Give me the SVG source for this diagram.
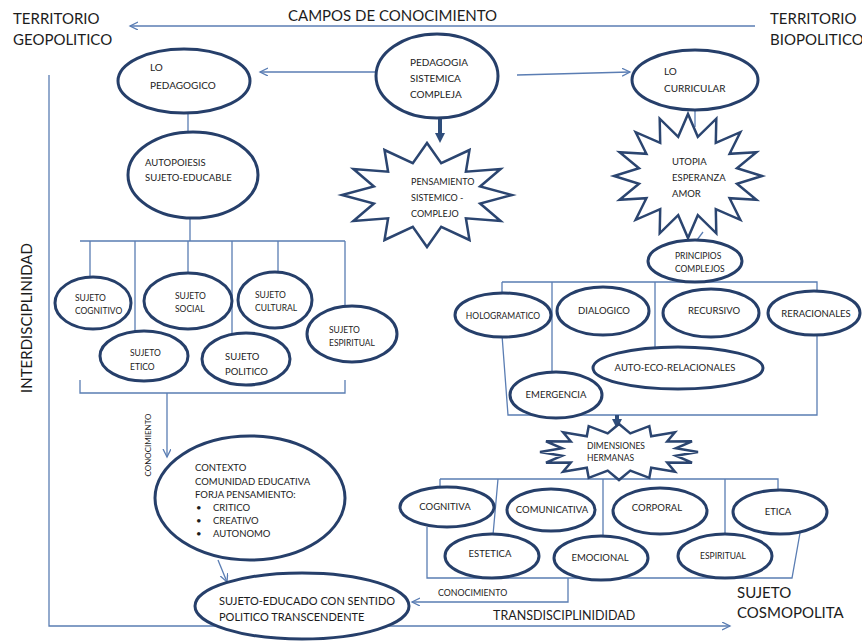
<svg xmlns="http://www.w3.org/2000/svg" width="862" height="641" viewBox="0 0 862 641">
<defs>
<marker id="open" markerWidth="10" markerHeight="10" refX="8" refY="4" orient="auto" markerUnits="userSpaceOnUse">
<path d="M0,0 L8,4 L0,8" fill="none" stroke="#5a7db3" stroke-width="1.3"/>
</marker>
<marker id="thick" markerWidth="12" markerHeight="12" refX="5" refY="5" orient="auto" markerUnits="userSpaceOnUse">
<path d="M0,0 L10,5 L0,10 Z" fill="#2e4d7b"/>
</marker>
</defs>
<style>
text{font-family:Lato,"Liberation Sans",sans-serif;fill:#1c1c1c}
.big{font-size:15px}
.l{font-size:11px}
.m{font-size:10px}
.s{font-size:9.5px}
.xs{font-size:8.5px}
.el{fill:#fff;stroke:#263f6a;stroke-width:3}
.star{fill:#fff;stroke:#2b4570;stroke-width:2.5;stroke-linejoin:miter}
.c{fill:none;stroke:#5a7db3;stroke-width:1.3}
.ca{fill:none;stroke:#5a7db3;stroke-width:1.3;marker-end:url(#open)}
</style>
<rect width="862" height="641" fill="#fff"/>

<g id="labels">
<text class="big" x="13" y="24">TERRITORIO</text>
<text class="big" x="13" y="45">GEOPOLITICO</text>
<text class="big" x="288" y="21">CAMPOS DE CONOCIMIENTO</text>
<text class="big" x="770" y="24">TERRITORIO</text>
<text class="big" x="770" y="45">BIOPOLITICO</text>
<text class="big" transform="translate(32,318) rotate(-90)" text-anchor="middle">INTERDISCIPLINIDAD</text>
<text x="493" y="620" style="font-size:12.5px">TRANSDISCIPLINIDIDAD</text>
<text class="big" x="737" y="598">SUJETO</text>
<text class="big" x="737" y="618">COSMOPOLITA</text>
<text transform="translate(151,445) rotate(-90)" text-anchor="middle" style="font-size:8px">CONOCIMIENTO</text>
<text x="438" y="596" style="font-size:8.8px">CONOCIMIENTO</text>
</g>

<g id="connectors">
<line class="ca" x1="755" y1="26" x2="130" y2="26"/>
<line class="ca" x1="377" y1="72" x2="260" y2="72"/>
<line class="ca" x1="517" y1="75" x2="630" y2="72"/>
<line x1="440" y1="118" x2="440" y2="138" stroke="#2e4d7b" stroke-width="4" marker-end="url(#thick)"/>
<line class="c" x1="188" y1="113" x2="188" y2="132"/>
<line class="c" x1="695" y1="110" x2="695" y2="127"/>
<line class="c" x1="190" y1="218" x2="190" y2="241"/>
<path class="c" d="M80,241 H345 M90,241 V278 M135,241 V331 M188,241 V272 M232,241 V334 M278,241 V271 M345,241 V305"/>
<path class="c" d="M80,380 V393 H345 V380"/>
<line class="ca" x1="167" y1="393" x2="167" y2="457"/>
<line class="ca" x1="218" y1="560" x2="227" y2="582"/>
<path class="ca" d="M49,75 V626 H730"/>
<line class="c" x1="703" y1="232" x2="697" y2="240"/>
<path class="c" d="M502,282 H817 V415 H508 L502,335 M502,282 V293 M552,282 V372 M655,282 V347"/>
<line x1="617" y1="415" x2="617" y2="424" stroke="#2e4d7b" stroke-width="4" marker-end="url(#thick)"/>
<path class="c" d="M440,479 H778 V490 M440,479 V488 M498,479 L493,535 M603,479 V535 M725,479 V535"/>
<path class="c" d="M800,533 L792,578 H427 V527"/>
<path class="ca" d="M568,578 V602 H412"/>
</g>

<g id="lo-pedagogico">
<ellipse class="el" cx="184" cy="81" rx="66" ry="32"/>
<text class="m" x="150" y="71">LO</text>
<text class="m" x="150" y="89">PEDAGOGICO</text>
</g>
<g id="pedagogia">
<ellipse class="el" cx="437" cy="76" rx="61" ry="42"/>
<text class="m" x="410" y="66">PEDAGOGIA</text>
<text class="m" x="410" y="82">SISTEMICA</text>
<text class="m" x="410" y="98">COMPLEJA</text>
</g>
<g id="lo-curricular">
<ellipse class="el" cx="695" cy="80" rx="63" ry="30"/>
<text class="m" x="664" y="75">LO</text>
<text class="m" x="664" y="92">CURRICULAR</text>
</g>
<g id="pensamiento">
<polygon class="star" points="512,195 480.1,203.5 500.6,221 465.9,218.3 469.5,240 441.2,226.9 427,247 412.8,226.9 384.5,240 388.1,218.3 353.4,221 373.9,203.5 342,195 373.9,186.5 353.4,169 388.1,171.7 384.5,150 412.8,163.1 427,143 441.2,163.1 469.5,150 465.9,171.7 500.6,169 480.1,186.5"/>
<text x="411" y="185" style="font-size:9px">PENSAMIENTO</text>
<text x="411" y="201" style="font-size:9px">SISTEMICO  -</text>
<text x="411" y="217" style="font-size:9px">COMPLEJO</text>
</g>
<g id="utopia">
<polygon class="star" points="762,176 737,183.8 756.4,199.7 729.6,198.2 740.3,219.8 715.8,209.2 716.3,233.3 697.8,215.2 688,238 678.2,215.2 659.7,233.3 660.2,209.2 635.7,219.8 646.4,198.2 619.6,199.7 639,183.8 614,176 639,168.2 619.6,152.3 646.4,153.8 635.7,132.2 660.2,142.8 659.7,118.7 678.2,136.8 688,114 697.8,136.8 716.3,118.7 715.8,142.8 740.3,132.2 729.6,153.8 756.4,152.3 737,168.2"/>
<text class="s" x="672" y="165">UTOPIA</text>
<text class="s" x="672" y="181">ESPERANZA</text>
<text class="s" x="672" y="197">AMOR</text>
</g>
<g id="autopoiesis">
<ellipse class="el" cx="193" cy="175" rx="65" ry="43"/>
<text class="s" x="145" y="166">AUTOPOIESIS</text>
<text class="s" x="145" y="181">SUJETO-EDUCABLE</text>
</g>
<g id="sujeto-cognitivo">
<ellipse class="el" cx="93" cy="303" rx="38" ry="26"/>
<text class="xs" x="75" y="301">SUJETO</text>
<text class="xs" x="75" y="314">COGNITIVO</text>
</g>
<g id="sujeto-social">
<ellipse class="el" cx="188" cy="301" rx="44" ry="28"/>
<text class="xs" x="175" y="299">SUJETO</text>
<text class="xs" x="175" y="312">SOCIAL</text>
</g>
<g id="sujeto-cultural">
<ellipse class="el" cx="275" cy="300" rx="37" ry="28"/>
<text class="xs" x="255" y="298">SUJETO</text>
<text class="xs" x="255" y="311">CULTURAL</text>
</g>
<g id="sujeto-espiritual">
<ellipse class="el" cx="352" cy="334" rx="45" ry="28"/>
<text class="xs" x="329" y="333">SUJETO</text>
<text class="xs" x="329" y="346">ESPIRITUAL</text>
</g>
<g id="sujeto-etico">
<ellipse class="el" cx="144" cy="356" rx="44" ry="25"/>
<text class="xs" x="130" y="356">SUJETO</text>
<text class="xs" x="130" y="370">ETICO</text>
</g>
<g id="sujeto-politico">
<ellipse class="el" cx="246" cy="359" rx="44" ry="26"/>
<text class="s" x="225" y="360">SUJETO</text>
<text class="s" x="225" y="375">POLITICO</text>
</g>
<g id="contexto">
<ellipse class="el" cx="250" cy="498" rx="95" ry="62"/>
<text class="s" x="195" y="471">CONTEXTO</text>
<text class="s" x="195" y="485">COMUNIDAD EDUCATIVA</text>
<text class="s" x="195" y="498">FORJA PENSAMIENTO:</text>
<text class="s" x="196" y="511">•</text><text class="s" x="213" y="511">CRITICO</text>
<text class="s" x="196" y="524">•</text><text class="s" x="213" y="524">CREATIVO</text>
<text class="s" x="196" y="537">•</text><text class="s" x="213" y="537">AUTONOMO</text>
</g>
<g id="sujeto-educado">
<ellipse class="el" cx="302" cy="606" rx="107" ry="33"/>
<text class="l" x="219" y="605">SUJETO-EDUCADO  CON SENTIDO</text>
<text class="l" x="219" y="621">POLITICO TRANSCENDENTE</text>
</g>
<g id="principios">
<ellipse class="el" cx="695" cy="261" rx="47" ry="21"/>
<text class="xs" x="675" y="259">PRINCIPIOS</text>
<text class="xs" x="675" y="272">COMPLEJOS</text>
</g>
<g id="hologramatico">
<ellipse class="el" cx="503" cy="315" rx="48" ry="22"/>
<text class="xs" x="503" y="319" text-anchor="middle">HOLOGRAMATICO</text>
</g>
<g id="dialogico">
<ellipse class="el" cx="603" cy="311" rx="46" ry="24"/>
<text class="s" x="604" y="314" text-anchor="middle">DIALOGICO</text>
</g>
<g id="recursivo">
<ellipse class="el" cx="711" cy="313" rx="48" ry="24"/>
<text class="s" x="714" y="314" text-anchor="middle">RECURSIVO</text>
</g>
<g id="reracionales">
<ellipse class="el" cx="814" cy="313" rx="46" ry="22"/>
<text class="s" x="816" y="317" text-anchor="middle">RERACIONALES</text>
</g>
<g id="auto-eco">
<ellipse class="el" cx="678" cy="368" rx="85" ry="21"/>
<text class="s" x="675" y="371" text-anchor="middle">AUTO-ECO-RELACIONALES</text>
</g>
<g id="emergencia">
<ellipse class="el" cx="556" cy="395" rx="46" ry="23"/>
<text class="s" x="556" y="398" text-anchor="middle">EMERGENCIA</text>
</g>
<g id="dimensiones">
<polygon class="star" points="698,452 675.9,455.7 692,462.7 667.2,462.6 674.9,471.8 651.2,467.8 649.3,477.9 630.3,470.6 619,480 607.7,470.6 588.7,477.9 586.8,467.8 563.1,471.8 570.8,462.6 546,462.7 562.1,455.7 540,452 562.1,448.3 546,441.3 570.8,441.4 563.1,432.2 586.8,436.2 588.7,426.1 607.7,433.4 619,424 630.3,433.4 649.3,426.1 651.2,436.2 674.9,432.2 667.2,441.4 692,441.3 675.9,448.3"/>
<text class="xs" x="587" y="449">DIMENSIONES</text>
<text class="xs" x="587" y="461">HERMANAS</text>
</g>
<g id="cognitiva">
<ellipse class="el" cx="447" cy="507" rx="47" ry="20"/>
<text class="s" x="445" y="510" text-anchor="middle">COGNITIVA</text>
</g>
<g id="comunicativa">
<ellipse class="el" cx="551" cy="510" rx="44" ry="21"/>
<text class="s" x="552" y="513" text-anchor="middle">COMUNICATIVA</text>
</g>
<g id="corporal">
<ellipse class="el" cx="660" cy="511" rx="47" ry="23"/>
<text class="s" x="657" y="511" text-anchor="middle">CORPORAL</text>
</g>
<g id="etica">
<ellipse class="el" cx="780" cy="512" rx="47" ry="22"/>
<text class="s" x="778" y="515" text-anchor="middle">ETICA</text>
</g>
<g id="estetica">
<ellipse class="el" cx="492" cy="556" rx="47" ry="22"/>
<text class="s" x="490" y="557" text-anchor="middle">ESTETICA</text>
</g>
<g id="emocional">
<ellipse class="el" cx="601" cy="558" rx="47" ry="22"/>
<text class="s" x="600" y="561" text-anchor="middle">EMOCIONAL</text>
</g>
<g id="espiritual">
<ellipse class="el" cx="725" cy="556" rx="47" ry="22"/>
<text class="xs" x="723" y="559" text-anchor="middle">ESPIRITUAL</text>
</g>
</svg>
